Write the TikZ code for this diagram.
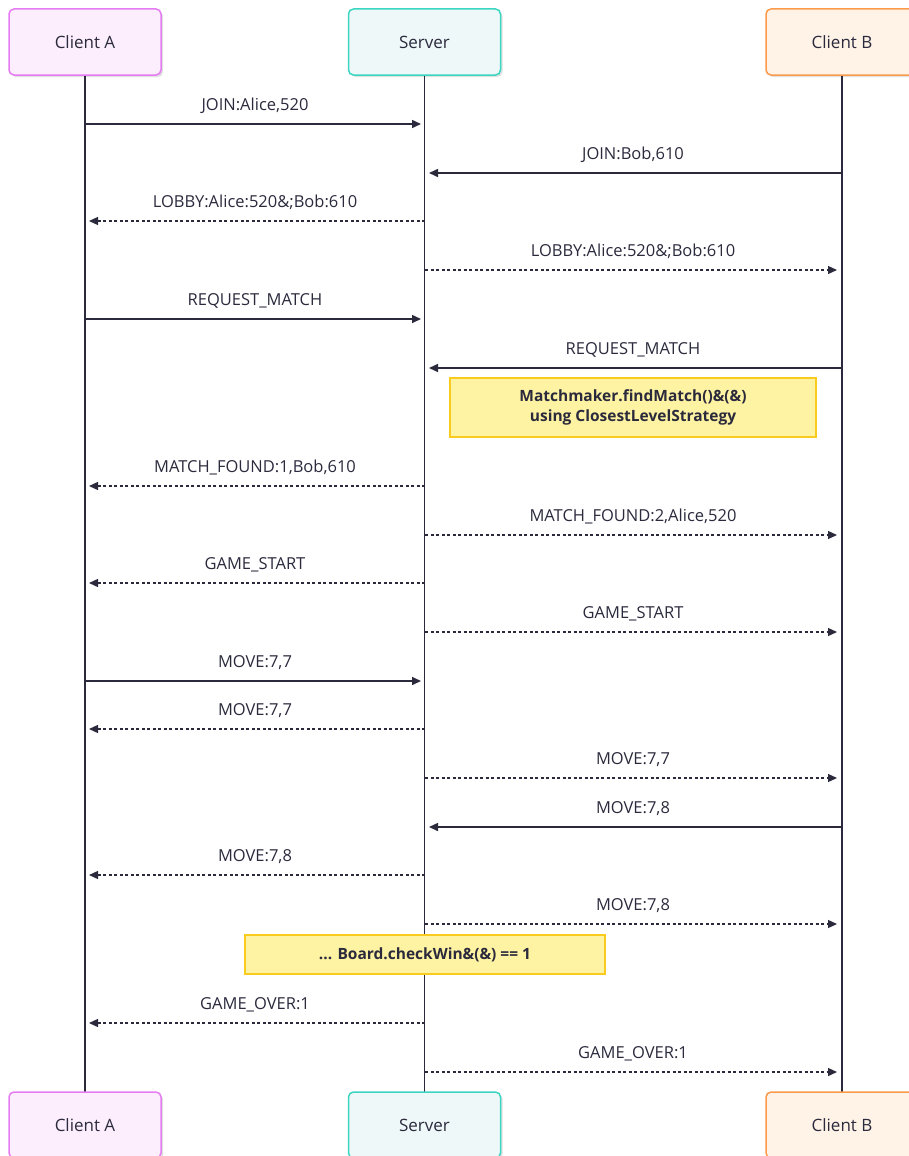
\documentclass[tikz,border=0pt]{standalone}
\usepackage{fontspec}
\setmainfont{Open Sans}
\usetikzlibrary{arrows.meta,positioning,shadows}

\definecolor{ink}{HTML}{2B2A3D}
\definecolor{pinkfill}{HTML}{FCEEFD}
\definecolor{pinkline}{HTML}{E67CF2}
\definecolor{tealfill}{HTML}{EEF8F9}
\definecolor{tealline}{HTML}{3AD6C2}
\definecolor{orangefill}{HTML}{FFF3E8}
\definecolor{orangeline}{HTML}{FB9A4B}
\definecolor{notefill}{HTML}{FEF3A2}
\definecolor{noteline}{HTML}{F9CB1E}

\tikzset{
  actor/.style={rounded corners=5pt, line width=1.5pt, minimum width=152pt,
    minimum height=66pt, text=ink, font=\fontsize{17}{20}\selectfont,
    drop shadow={shadow xshift=2pt, shadow yshift=-2pt, opacity=0.12, fill=black}},
  clienta/.style={actor, draw=pinkline, fill=pinkfill},
  server/.style={actor, draw=tealline, fill=tealfill},
  clientb/.style={actor, draw=orangeline, fill=orangefill},
  lifeline/.style={draw=ink, line width=1.6pt},
  call/.style={draw=ink, line width=1.5pt, -{Triangle[length=9pt,width=8pt]}, shorten >=4pt},
  reply/.style={draw=ink, line width=1.3pt, dash pattern=on 3pt off 2.5pt,
    -{Triangle[length=9pt,width=8pt]}, shorten >=4pt},
  msglabel/.style={text=ink, font=\fontsize{16.5}{19}\selectfont, anchor=base, yshift=14pt},
  notebox/.style={draw=noteline, fill=notefill, line width=1.5pt, text=ink,
    font=\bfseries\fontsize{15.5}{20}\selectfont, align=center}
}

\begin{document}
\begin{tikzpicture}[x=1pt,y=-1pt]
    \useasboundingbox (0,0) rectangle (909,1156);
    % participants
    \node[clienta] (topA) at (85,42) {Client A};
    \node[server] (topS) at (424.5,42) {Server};
    \node[clientb] (topB) at (842,42) {Client B};
    \draw[lifeline] (topA.south) -- (topA.south |- 0,1092) coordinate (endA);
    \draw[lifeline] (topS.south) -- (topS.south |- 0,1092) coordinate (endS);
    \draw[lifeline] (topB.south) -- (topB.south |- 0,1092) coordinate (endB);
    \node[clienta] (botA) at (85,1125) {Client A};
    \node[server] (botS) at (424.5,1125) {Server};
    \node[clientb] (botB) at (842,1125) {Client B};
    \coordinate (A) at (85,0);
    \coordinate (S) at (425,0);
    \coordinate (B) at (841,0);
    % messages
    \foreach \y/\s/\t/\kind/\lbl in {
        124/A/S/call/{JOIN:Alice,520},
        173/B/S/call/{JOIN:Bob,610},
        221/S/A/reply/{LOBBY:Alice:520\&;Bob:610},
        270/S/B/reply/{LOBBY:Alice:520\&;Bob:610},
        319/A/S/call/{REQUEST\_MATCH},
        368/B/S/call/{REQUEST\_MATCH},
        486/S/A/reply/{MATCH\_FOUND:1,Bob,610},
        535/S/B/reply/{MATCH\_FOUND:2,Alice,520},
        583/S/A/reply/{GAME\_START},
        632/S/B/reply/{GAME\_START},
        681/A/S/call/{MOVE:7,7},
        729/S/A/reply/{MOVE:7,7},
        778/S/B/reply/{MOVE:7,7},
        827/B/S/call/{MOVE:7,8},
        875/S/A/reply/{MOVE:7,8},
        924/S/B/reply/{MOVE:7,8},
        1023/S/A/reply/{GAME\_OVER:1},
        1072/S/B/reply/{GAME\_OVER:1}}
    {
        \draw[\kind] (\s |- 0,\y) -- node[msglabel]{\lbl} (\t |- 0,\y);
    }
    % notes
    \node[notebox, minimum width=366pt, minimum height=59pt] (note1) at (633,407.5)
        {Matchmaker.findMatch()\&(\&)\\using ClosestLevelStrategy};
    \node[notebox, minimum width=360pt, minimum height=39pt] (note2) at (425,954.5)
        {... Board.checkWin\&(\&) == 1};
\end{tikzpicture}
\end{document}
